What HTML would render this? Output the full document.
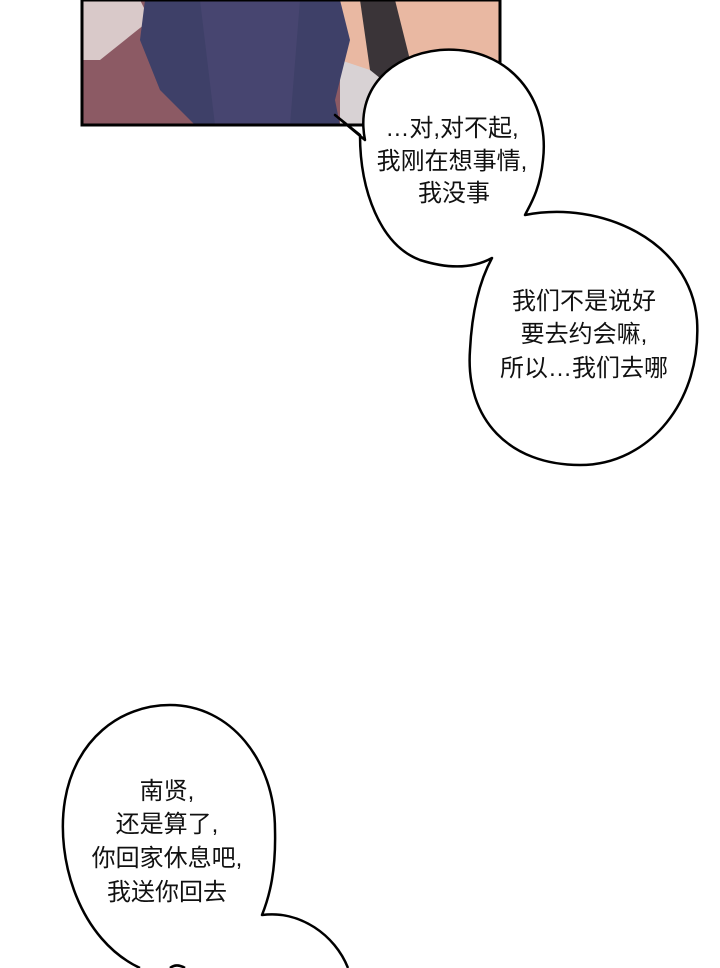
<!DOCTYPE html>
<html><head><meta charset="utf-8"><style>
html,body{margin:0;padding:0;background:#fff;}
svg{display:block}
text{font-family:"Liberation Sans","Noto Sans CJK SC",sans-serif;font-size:24px;fill:#111;text-anchor:middle}
</style></head><body>
<svg width="720" height="968" viewBox="0 0 720 968" xmlns="http://www.w3.org/2000/svg">
<rect width="720" height="968" fill="#fff"/>
<g>
<rect x="82" y="0" width="418" height="125" fill="#8c5a64"/>
<polygon points="82,0 140,0 150,20 100,60 82,60" fill="#d9c9c9"/>
<rect x="340" y="0" width="160" height="125" fill="#e9b8a2"/>
<polygon points="340,60 400,80 380,125 340,125" fill="#d8d2d4"/>
<polygon points="360,0 395,0 410,60 395,90 370,70" fill="#3a3438"/>
<polygon points="145,0 340,0 350,40 335,100 340,125 195,125 160,90 140,40" fill="#3e4068"/>
<polygon points="200,0 300,0 290,125 215,125" fill="#474570"/>
<rect x="82" y="0" width="418" height="125" fill="none" stroke="#000" stroke-width="3"/>
</g>
<path d="M360,135 L335,115 L365,140 C355,90 390,55 440,50 C510,45 550,100 543,160 C540,190 530,205 525,215 C600,200 690,240 697,320 C702,400 650,465 580,465 C510,465 465,420 470,350 C472,310 480,280 492,258 C470,270 445,268 420,260 C380,245 360,190 360,135 Z" fill="#fff" stroke="#000" stroke-width="2.5" stroke-linejoin="round"/>
<text x="452" y="136">…对,对不起,</text>
<text x="452" y="169">我刚在想事情,</text>
<text x="454" y="201">我没事</text>
<text x="584" y="309">我们不是说好</text>
<text x="584" y="342">要去约会嘛,</text>
<text x="584" y="376">所以…我们去哪</text>
<path d="M185,968 C180,965 175,964 170,968 M140,968 C80,940 55,860 65,800 C75,740 120,705 170,705 C230,705 275,760 275,830 C276,870 270,895 262,915 C300,910 335,935 348,968" fill="#fff" stroke="#000" stroke-width="2.5" stroke-linejoin="round"/>
<text x="167" y="799">南贤,</text>
<text x="167" y="832">还是算了,</text>
<text x="167" y="866">你回家休息吧,</text>
<text x="167" y="900">我送你回去</text>
</svg>
</body></html>
